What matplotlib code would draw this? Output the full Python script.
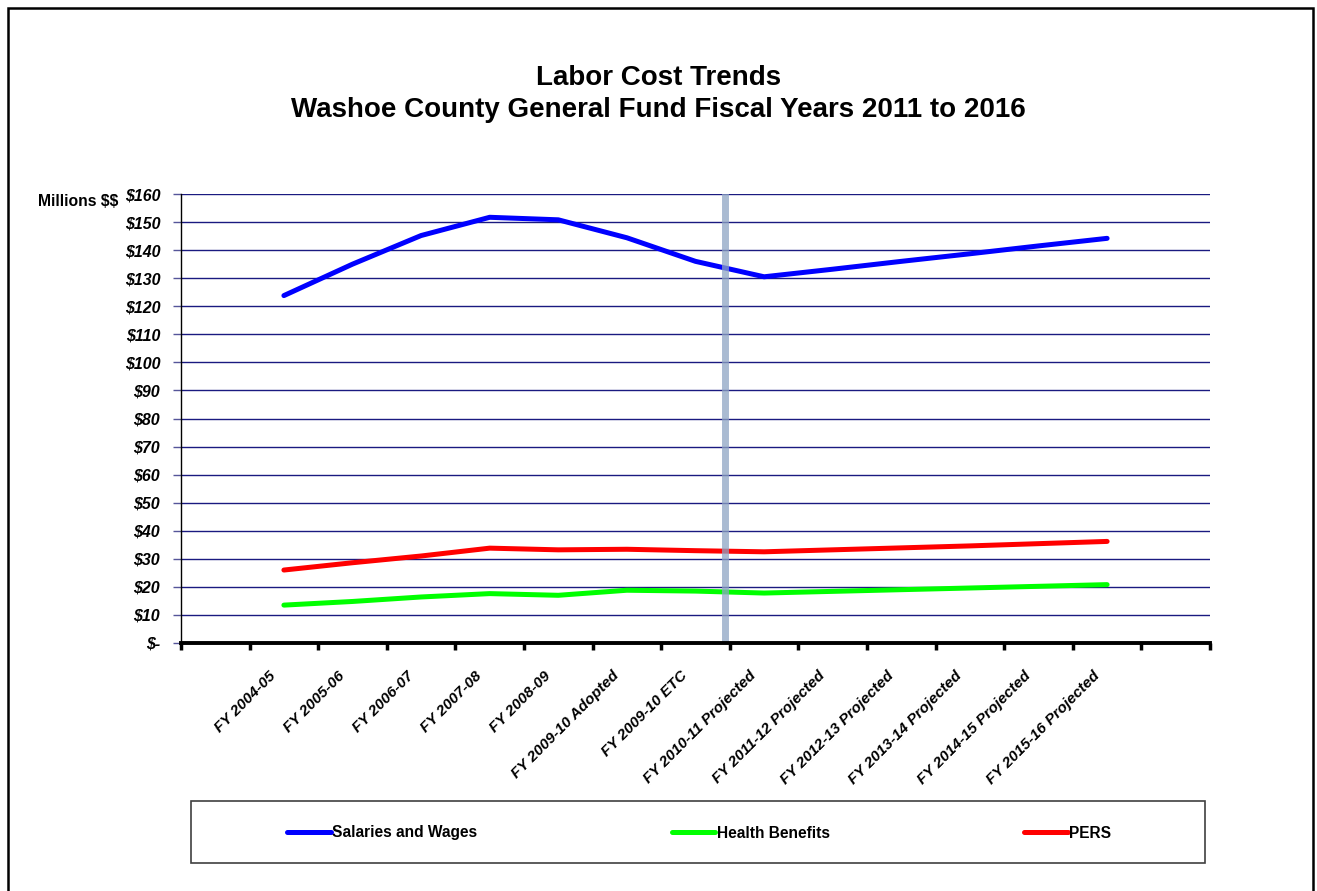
import numpy as np
import matplotlib.pyplot as plt
from matplotlib.patches import Rectangle
from matplotlib.transforms import ScaledTranslation

plt.rcParams['font.family'] = ['Liberation Sans', 'DejaVu Sans']
plt.rcParams['text.parse_math'] = False

# data (millions of dollars)
fiscal_years = ['FY 2004-05', 'FY 2005-06', 'FY 2006-07', 'FY 2007-08', 'FY 2008-09',
                'FY 2009-10 Adopted', 'FY 2009-10 ETC', 'FY 2010-11 Projected',
                'FY 2011-12 Projected', 'FY 2012-13 Projected', 'FY 2013-14 Projected',
                'FY 2014-15 Projected', 'FY 2015-16 Projected']
salaries = [123.8, 135.0, 145.2, 151.7, 150.8, 144.4, 136.0, 130.5, 133.2, 136.0, 138.7, 141.5, 144.2]
health = [13.5, 14.8, 16.4, 17.6, 17.0, 18.8, 18.5, 17.8, 18.4, 19.0, 19.6, 20.2, 20.8]
pers = [26.0, 28.6, 31.0, 33.8, 33.2, 33.4, 32.9, 32.5, 33.2, 33.9, 34.6, 35.4, 36.2]
divider = 7.43      # actual / projected separator
n_slots = 15        # empty category at each end
yticks = np.arange(0, 161, 10)

W, H = 1317, 891
fig = plt.figure(figsize=(W / 100, H / 100), dpi=100)
ax = fig.add_axes([181 / W, 1 - 643 / H, (1210 - 181) / W, (643 - 194) / H])

x = np.arange(1, len(fiscal_years) + 1)
ax.plot(x, salaries, color='#0000ff', lw=3.6, solid_capstyle='round', label='Salaries and Wages', zorder=3)
ax.plot(x, health, color='#00ff00', lw=3.6, solid_capstyle='round', label='Health Benefits', zorder=3)
ax.plot(x, pers, color='#ff0000', lw=3.6, solid_capstyle='round', label='PERS', zorder=3)
ax.axvline(divider, color='#8ea4c4', lw=5, alpha=0.75, zorder=4)

ax.set_xlim(-0.5, n_slots - 0.5)
ax.set_ylim(0, 160)

# y axis
ax.set_yticks(yticks)
ax.set_yticklabels(['$-' if v == 0 else '$%d' % v for v in yticks],
                   fontsize=11.5, fontweight='bold', fontstyle='italic')
ax.tick_params(axis='y', length=6, width=1, color='#555599', pad=9)
for v in yticks[1:]:
    ax.axhline(v, color='#1a1a80', lw=1, zorder=1)

# x axis: tick marks on category boundaries, labels at centres
ax.set_xticks(np.arange(-0.5, n_slots, 1.0))
ax.set_xticklabels([])
ax.tick_params(axis='x', which='major', length=5, width=2.5, color='black')
ax.set_xticks(x, minor=True)
ax.set_xticklabels(fiscal_years, minor=True, rotation=45, ha='right', va='center',
                   rotation_mode='anchor', fontsize=11, fontweight='bold', fontstyle='italic')
ax.tick_params(axis='x', which='minor', length=0, pad=22)
shift = ScaledTranslation(-10 / 100, 0, fig.dpi_scale_trans)
for lbl in ax.get_xticklabels(minor=True):
    lbl.set_transform(lbl.get_transform() + shift)

for s in ['top', 'right']:
    ax.spines[s].set_visible(False)
ax.spines['left'].set_linewidth(1)
ax.spines['bottom'].set_linewidth(2.8)
ax.spines['bottom'].set_zorder(5)

fig.text(38 / W, 1 - 201 / H, 'Millions $$', fontsize=11.3, fontweight='bold', va='center', ha='left')
fig.text(0.5, 1 - 78 / H, 'Labor Cost Trends', fontsize=20, fontweight='bold', ha='center', va='center')
fig.text(0.5, 1 - 110 / H, 'Washoe County General Fund Fiscal Years 2011 to 2016',
         fontsize=20, fontweight='bold', ha='center', va='center')

# legend box and legend
fig.patches.append(Rectangle((191 / W, 1 - 863 / H), (1205 - 191) / W, (863 - 801) / H,
                             transform=fig.transFigure, fill=False, edgecolor='#404040', lw=1.2))
fig.legend(loc='center left', bbox_to_anchor=(287 / W, 1 - 833 / H), ncol=3, frameon=False,
           prop={'weight': 'bold', 'size': 11.2}, handlelength=2.8, handletextpad=0.1,
           columnspacing=12.5, borderpad=0, borderaxespad=0)

# outer border
fig.patches.append(Rectangle((8 / W, -0.05), (1313 - 8) / W, 1 - 8 / H + 0.05,
                             transform=fig.transFigure, fill=False, edgecolor='black', lw=1.8))

fig.savefig('out.png', dpi=100)
